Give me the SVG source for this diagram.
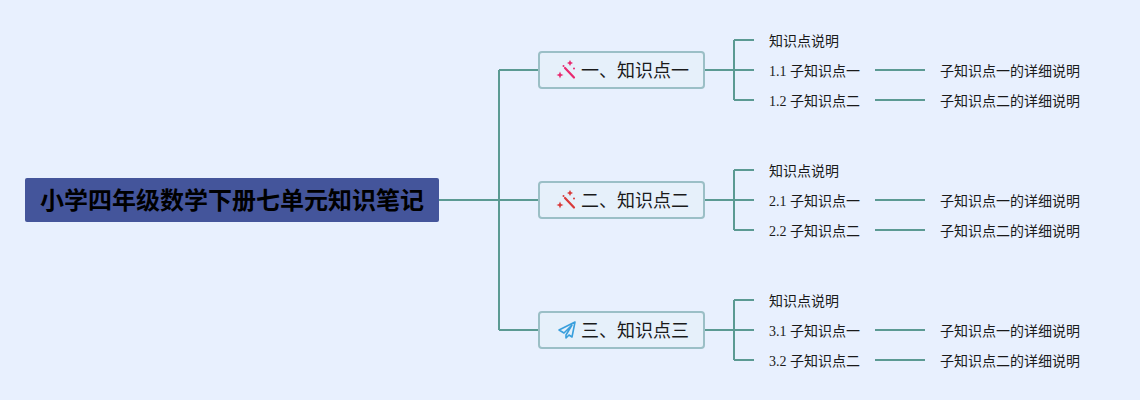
<svg xmlns="http://www.w3.org/2000/svg" width="1140" height="400" viewBox="0 0 1140 400">
<style>
text{font-family:"Liberation Serif","Noto Sans CJK SC",serif;fill:#1a1a1a;dominant-baseline:central}
.l{font-size:14px}
.m{font-size:18px}
.r{font-size:24px;font-weight:700;fill:#000}
.c{fill:none;stroke:#5b9a93;stroke-width:2}
.b{fill:#e6f0fa;stroke:#9bbfc6;stroke-width:2}
.w{fill:none;stroke-width:2.2;stroke-linecap:round}
</style>
<defs>
<g id="wand"><path class="w" d="M-2-2 7 7.500"/><path stroke="none" d="M-7 1.500-6 4-3.500 5-6 6-7 8.500-8 6-10.500 5-8 4Z"/><path stroke="none" d="M3-10 4-8 6-7 4-6 3-4 2-6 0-7 2-8Z"/><circle cx="-3.500" cy="-4" r="1" stroke="none"/><circle cx="7" cy="-1.500" r="1" stroke="none"/></g>
</defs>
<rect width="1140" height="400" fill="#e8f0fe"/>
<g id="connectors">
<path class="c" d="M439 200H539M499 70V330M499 70H539M499 330H539"/>
<path class="c" d="M704 70H754M734 40V100M734 40H754M734 100H754M875 70H925M875 100H925"/>
<path class="c" d="M704 200H754M734 170V230M734 170H754M734 230H754M875 200H925M875 230H925"/>
<path class="c" d="M704 330H754M734 300V360M734 300H754M734 360H754M875 330H925M875 360H925"/>
</g>
<g id="root"><rect x="25" y="178" width="414" height="44" rx="2" fill="#44559b"/><text class="r" x="232" y="201" text-anchor="middle">小学四年级数学下册七单元知识笔记</text></g>
<g id="n1"><rect class="b" x="539" y="52" width="165" height="36" rx="3"/><use href="#wand" x="567" y="70" fill="#e9296f" stroke="#e9296f"/><text class="m" x="581" y="71">一、知识点一</text></g>
<g id="n2"><rect class="b" x="539" y="182" width="165" height="36" rx="3"/><use href="#wand" x="567" y="200" fill="#d93a3a" stroke="#d93a3a"/><text class="m" x="581" y="201">二、知识点二</text></g>
<g id="n3"><rect class="b" x="539" y="312" width="165" height="36" rx="3"/><path d="M575 322 559 330 564 333 572 325 566 335 566 338 569 335 572 337Z" fill="none" stroke="#3a9fdc" stroke-width="1.6" stroke-linejoin="round"/><text class="m" x="581" y="331">三、知识点三</text></g>
<g id="n1-0"><text class="l" x="769" y="41">知识点说明</text></g>
<g id="n1-1"><text class="l" x="769" y="71">1.1 子知识点一</text></g>
<g id="n1-2"><text class="l" x="769" y="101">1.2 子知识点二</text></g>
<g id="n1-1-1"><text class="l" x="940" y="71">子知识点一的详细说明</text></g>
<g id="n1-2-1"><text class="l" x="940" y="101">子知识点二的详细说明</text></g>
<g id="n2-0"><text class="l" x="769" y="171">知识点说明</text></g>
<g id="n2-1"><text class="l" x="769" y="201">2.1 子知识点一</text></g>
<g id="n2-2"><text class="l" x="769" y="231">2.2 子知识点二</text></g>
<g id="n2-1-1"><text class="l" x="940" y="201">子知识点一的详细说明</text></g>
<g id="n2-2-1"><text class="l" x="940" y="231">子知识点二的详细说明</text></g>
<g id="n3-0"><text class="l" x="769" y="301">知识点说明</text></g>
<g id="n3-1"><text class="l" x="769" y="331">3.1 子知识点一</text></g>
<g id="n3-2"><text class="l" x="769" y="361">3.2 子知识点二</text></g>
<g id="n3-1-1"><text class="l" x="940" y="331">子知识点一的详细说明</text></g>
<g id="n3-2-1"><text class="l" x="940" y="361">子知识点二的详细说明</text></g>
</svg>
